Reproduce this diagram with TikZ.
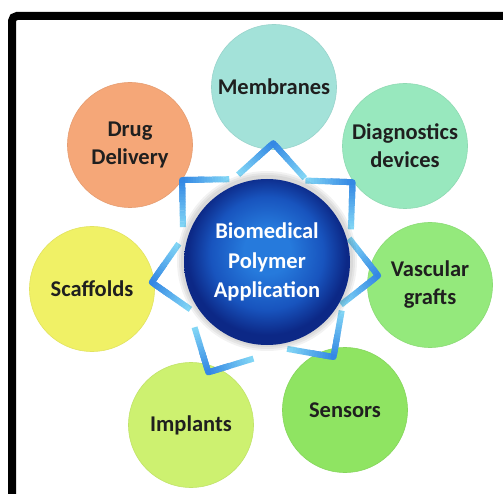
\documentclass[tikz,border=0pt]{standalone}
\usepackage{fontspec}
\setmainfont{Carlito}
\usetikzlibrary{calc, positioning}

\definecolor{drugC}{RGB}{245,167,120}
\definecolor{membC}{RGB}{163,226,217}
\definecolor{diagC}{RGB}{152,232,190}
\definecolor{vascC}{RGB}{148,233,124}
\definecolor{sensC}{RGB}{143,228,98}
\definecolor{implC}{RGB}{205,241,112}
\definecolor{scafC}{RGB}{240,241,102}
\definecolor{tipblue}{RGB}{52,136,228}
\definecolor{rimcyan}{RGB}{132,216,246}
\definecolor{orbHi}{RGB}{38,122,220}
\definecolor{orbMid}{RGB}{24,84,190}
\definecolor{orbLo}{RGB}{12,40,134}

% sphere in the middle, lit a little from above
\pgfdeclareradialshading{orb}{\pgfpoint{0bp}{4bp}}{color(0bp)=(orbHi); color(7bp)=(orbHi);
  color(17bp)=(orbMid); color(24bp)=(orbLo); color(25bp)=(orbLo); color(50bp)=(orbLo)}

\begin{document}
\begin{tikzpicture}[x=1pt, y=1pt,
    bubble/.style={circle, minimum size=125pt, inner sep=0pt, align=center,
      line width=0.6pt, text=black!88,
      font=\fontsize{22.5}{28}\selectfont\bfseries},
    hubnode/.style={circle, minimum size=166pt, inner sep=0pt, align=center,
      shading=orb, text=white, font=\fontsize{22.5}{29.5}\selectfont\bfseries},
    chevron/.style={line width=6pt}]
  \useasboundingbox (0,0) rectangle (503,493);
  \clip (0,0) rectangle (503,493);
  \fill[white] (0,0) rectangle (503,493);
  \draw[line width=8pt, rounded corners=5pt] (12,-10) |- (520,477);

  \coordinate (hub) at (267,231);

  \node[bubble, fill=membC, draw=membC!94!black] (membranes) at (274,406) {Membranes};
  \node[bubble, fill=diagC, draw=diagC!94!black] (diag)      at (405,347) {Diagnostics\\devices};
  \node[bubble, fill=vascC, draw=vascC!94!black] (vascular)  at (430,208) {Vascular\\grafts};
  \node[bubble, fill=sensC, draw=sensC!94!black] (sensors)   at (345,83)  {Sensors};
  \node[bubble, fill=implC, draw=implC!94!black] (implants)  at (191,68)  {Implants};
  \node[bubble, fill=scafC, draw=scafC!94!black] (scaffolds) at (92,204)  {Scaffolds};
  \node[bubble, fill=drugC, draw=drugC!94!black] (drug)      at (130,348) {Drug\\Delivery};

  % star points, darker at the tip
  \foreach \ang/\dist in {87/119, 43/117, -7/112, -55/116, -118/125, 190/117, 136/118} {
    \coordinate (tip) at ($(hub)+(\ang:\dist)$);
    \draw[chevron, color=tipblue, line join=round]
      ($(tip)+({\ang+135}:22)$) -- (tip) -- ($(tip)+({\ang+225}:22)$);
    \foreach \side in {-45,45}
      \foreach \k in {1,...,16} {
        \pgfmathtruncatemacro\mix{100-6*\k}
        \draw[chevron, color=tipblue!\mix!rimcyan]
          ($(tip)+({\ang+180+\side}:{2.75*\k})$) -- ($(tip)+({\ang+180+\side}:{2.75*(\k+1)+0.4})$);
      }
  }

  % soft shadow round the sphere
  \foreach \r in {90,88,86}
    \fill[black, opacity=0.05] ($(hub)+(0,1)$) circle (\r);

  \node[hubnode] (core) at (hub) {Biomedical\\Polymer\\Application};
\end{tikzpicture}
\end{document}
